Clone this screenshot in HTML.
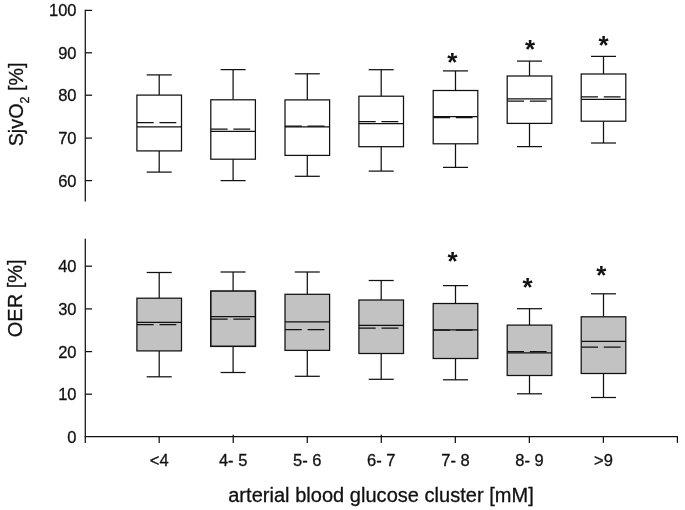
<!DOCTYPE html>
<html lang="en">
<head>
<meta charset="utf-8">
<title>Box plots: SjvO2 and OER by arterial blood glucose cluster</title>
<style>
html,body{margin:0;padding:0;background:#fff;}
body{width:685px;height:510px;overflow:hidden;}
svg{display:block;}
</style>
</head>
<body>
<svg width="685" height="510" viewBox="0 0 685 510">
<rect width="685" height="510" fill="#fff"/>
<g stroke="#111" stroke-width="1.25" fill="none" stroke-linecap="butt">
<line x1="85.3" y1="9.8" x2="85.3" y2="201.6"/>
<line x1="85.3" y1="10.40" x2="92.1" y2="10.40"/>
<line x1="85.3" y1="52.80" x2="92.1" y2="52.80"/>
<line x1="85.3" y1="95.20" x2="92.1" y2="95.20"/>
<line x1="85.3" y1="138.10" x2="92.1" y2="138.10"/>
<line x1="85.3" y1="180.60" x2="92.1" y2="180.60"/>
<line x1="85.3" y1="238.8" x2="85.3" y2="442.9"/>
<line x1="85.3" y1="266.20" x2="92.1" y2="266.20"/>
<line x1="85.3" y1="308.90" x2="92.1" y2="308.90"/>
<line x1="85.3" y1="351.60" x2="92.1" y2="351.60"/>
<line x1="85.3" y1="394.20" x2="92.1" y2="394.20"/>
<line x1="84.7" y1="436.7" x2="678.0" y2="436.7"/>
<line x1="159.20" y1="436.7" x2="159.20" y2="442.9"/>
<line x1="233.23" y1="434.7" x2="233.23" y2="442.9"/>
<line x1="307.26" y1="436.7" x2="307.26" y2="442.9"/>
<line x1="381.29" y1="434.7" x2="381.29" y2="442.9"/>
<line x1="455.32" y1="436.7" x2="455.32" y2="442.9"/>
<line x1="529.35" y1="436.7" x2="529.35" y2="442.9"/>
<line x1="603.38" y1="436.7" x2="603.38" y2="442.9"/>
<line x1="677.41" y1="436.7" x2="677.41" y2="442.9"/>
<line x1="159.20" y1="74.90" x2="159.20" y2="95.10"/>
<line x1="159.20" y1="150.90" x2="159.20" y2="172.10"/>
<line x1="146.70" y1="74.90" x2="171.70" y2="74.90"/>
<line x1="146.70" y1="172.10" x2="171.70" y2="172.10"/>
<rect x="136.90" y="95.10" width="44.60" height="55.80" fill="#fff"/>
<line x1="136.90" y1="126.90" x2="181.50" y2="126.90"/>
<line x1="136.90" y1="122.60" x2="181.50" y2="122.60" stroke-dasharray="16.8 5.8"/>
<line x1="233.10" y1="69.60" x2="233.10" y2="99.80"/>
<line x1="233.10" y1="159.20" x2="233.10" y2="180.60"/>
<line x1="220.60" y1="69.60" x2="245.60" y2="69.60"/>
<line x1="220.60" y1="180.60" x2="245.60" y2="180.60"/>
<rect x="210.80" y="99.80" width="44.60" height="59.40" fill="#fff"/>
<line x1="210.80" y1="131.40" x2="255.40" y2="131.40"/>
<line x1="210.80" y1="129.20" x2="255.40" y2="129.20" stroke-dasharray="16.8 5.8"/>
<line x1="307.30" y1="73.80" x2="307.30" y2="99.90"/>
<line x1="307.30" y1="155.40" x2="307.30" y2="176.30"/>
<line x1="294.80" y1="73.80" x2="319.80" y2="73.80"/>
<line x1="294.80" y1="176.30" x2="319.80" y2="176.30"/>
<rect x="285.00" y="99.90" width="44.60" height="55.50" fill="#fff"/>
<line x1="285.00" y1="126.90" x2="329.60" y2="126.90"/>
<line x1="285.00" y1="126.00" x2="329.60" y2="126.00" stroke-dasharray="16.8 5.8"/>
<line x1="381.20" y1="69.70" x2="381.20" y2="96.20"/>
<line x1="381.20" y1="146.70" x2="381.20" y2="171.10"/>
<line x1="368.70" y1="69.70" x2="393.70" y2="69.70"/>
<line x1="368.70" y1="171.10" x2="393.70" y2="171.10"/>
<rect x="358.90" y="96.20" width="44.60" height="50.50" fill="#fff"/>
<line x1="358.90" y1="123.60" x2="403.50" y2="123.60"/>
<line x1="358.90" y1="121.70" x2="403.50" y2="121.70" stroke-dasharray="16.8 5.8"/>
<line x1="455.50" y1="70.90" x2="455.50" y2="90.50"/>
<line x1="455.50" y1="143.80" x2="455.50" y2="167.40"/>
<line x1="443.00" y1="70.90" x2="468.00" y2="70.90"/>
<line x1="443.00" y1="167.40" x2="468.00" y2="167.40"/>
<rect x="433.20" y="90.50" width="44.60" height="53.30" fill="#fff"/>
<line x1="433.20" y1="116.70" x2="477.80" y2="116.70"/>
<line x1="433.20" y1="117.60" x2="477.80" y2="117.60" stroke-dasharray="16.8 5.8"/>
<line x1="529.50" y1="61.10" x2="529.50" y2="76.00"/>
<line x1="529.50" y1="123.40" x2="529.50" y2="146.60"/>
<line x1="517.00" y1="61.10" x2="542.00" y2="61.10"/>
<line x1="517.00" y1="146.60" x2="542.00" y2="146.60"/>
<rect x="507.20" y="76.00" width="44.60" height="47.40" fill="#fff"/>
<line x1="507.20" y1="98.80" x2="551.80" y2="98.80"/>
<line x1="507.20" y1="101.00" x2="551.80" y2="101.00" stroke-dasharray="16.8 5.8"/>
<line x1="603.50" y1="56.40" x2="603.50" y2="74.00"/>
<line x1="603.50" y1="121.20" x2="603.50" y2="143.00"/>
<line x1="591.00" y1="56.40" x2="616.00" y2="56.40"/>
<line x1="591.00" y1="143.00" x2="616.00" y2="143.00"/>
<rect x="581.20" y="74.00" width="44.60" height="47.20" fill="#fff"/>
<line x1="581.20" y1="99.40" x2="625.80" y2="99.40"/>
<line x1="581.20" y1="96.80" x2="625.80" y2="96.80" stroke-dasharray="16.8 5.8"/>
<line x1="159.20" y1="272.50" x2="159.20" y2="298.20"/>
<line x1="159.20" y1="350.90" x2="159.20" y2="376.80"/>
<line x1="146.70" y1="272.50" x2="171.70" y2="272.50"/>
<line x1="146.70" y1="376.80" x2="171.70" y2="376.80"/>
<rect x="136.90" y="298.20" width="44.60" height="52.70" fill="#c2c2c2"/>
<line x1="136.90" y1="322.40" x2="181.50" y2="322.40"/>
<line x1="136.90" y1="324.60" x2="181.50" y2="324.60" stroke-dasharray="16.8 5.8"/>
<line x1="233.10" y1="272.00" x2="233.10" y2="291.00"/>
<line x1="233.10" y1="346.30" x2="233.10" y2="372.50"/>
<line x1="220.60" y1="272.00" x2="245.60" y2="272.00"/>
<line x1="220.60" y1="372.50" x2="245.60" y2="372.50"/>
<rect x="210.80" y="291.00" width="44.60" height="55.30" fill="#c2c2c2" stroke-width="1.55"/>
<line x1="210.80" y1="316.70" x2="255.40" y2="316.70"/>
<line x1="210.80" y1="319.00" x2="255.40" y2="319.00" stroke-dasharray="16.8 5.8"/>
<line x1="307.30" y1="272.00" x2="307.30" y2="294.30"/>
<line x1="307.30" y1="350.40" x2="307.30" y2="376.30"/>
<line x1="294.80" y1="272.00" x2="319.80" y2="272.00"/>
<line x1="294.80" y1="376.30" x2="319.80" y2="376.30"/>
<rect x="285.00" y="294.30" width="44.60" height="56.10" fill="#c2c2c2"/>
<line x1="285.00" y1="321.80" x2="329.60" y2="321.80"/>
<line x1="285.00" y1="329.60" x2="329.60" y2="329.60" stroke-dasharray="16.8 5.8"/>
<line x1="381.20" y1="280.50" x2="381.20" y2="300.00"/>
<line x1="381.20" y1="353.50" x2="381.20" y2="379.30"/>
<line x1="368.70" y1="280.50" x2="393.70" y2="280.50"/>
<line x1="368.70" y1="379.30" x2="393.70" y2="379.30"/>
<rect x="358.90" y="300.00" width="44.60" height="53.50" fill="#c2c2c2"/>
<line x1="358.90" y1="325.30" x2="403.50" y2="325.30"/>
<line x1="358.90" y1="328.00" x2="403.50" y2="328.00" stroke-dasharray="16.8 5.8"/>
<line x1="455.50" y1="285.60" x2="455.50" y2="303.50"/>
<line x1="455.50" y1="358.50" x2="455.50" y2="379.80"/>
<line x1="443.00" y1="285.60" x2="468.00" y2="285.60"/>
<line x1="443.00" y1="379.80" x2="468.00" y2="379.80"/>
<rect x="433.20" y="303.50" width="44.60" height="55.00" fill="#c2c2c2"/>
<line x1="433.20" y1="329.80" x2="477.80" y2="329.80"/>
<line x1="433.20" y1="330.20" x2="477.80" y2="330.20" stroke-dasharray="16.8 5.8"/>
<line x1="529.50" y1="308.70" x2="529.50" y2="325.10"/>
<line x1="529.50" y1="375.50" x2="529.50" y2="393.80"/>
<line x1="517.00" y1="308.70" x2="542.00" y2="308.70"/>
<line x1="517.00" y1="393.80" x2="542.00" y2="393.80"/>
<rect x="507.20" y="325.10" width="44.60" height="50.40" fill="#c2c2c2"/>
<line x1="507.20" y1="352.80" x2="551.80" y2="352.80"/>
<line x1="507.20" y1="351.50" x2="551.80" y2="351.50" stroke-dasharray="16.8 5.8"/>
<line x1="603.50" y1="293.80" x2="603.50" y2="316.80"/>
<line x1="603.50" y1="373.50" x2="603.50" y2="397.50"/>
<line x1="591.00" y1="293.80" x2="616.00" y2="293.80"/>
<line x1="591.00" y1="397.50" x2="616.00" y2="397.50"/>
<rect x="581.20" y="316.80" width="44.60" height="56.70" fill="#c2c2c2"/>
<line x1="581.20" y1="341.30" x2="625.80" y2="341.30"/>
<line x1="581.20" y1="347.00" x2="625.80" y2="347.00" stroke-dasharray="16.8 5.8"/>
</g>
<g font-family="'Liberation Sans', Arial, Helvetica, sans-serif" fill="#111" stroke="#111" stroke-width="0.3">
<g font-size="16.5px" text-anchor="end">
<text x="76.5" y="16.30">100</text>
<text x="76.5" y="58.70">90</text>
<text x="76.5" y="101.10">80</text>
<text x="76.5" y="144.00">70</text>
<text x="76.5" y="186.50">60</text>
<text x="76.5" y="272.10">40</text>
<text x="76.5" y="314.80">30</text>
<text x="76.5" y="357.50">20</text>
<text x="76.5" y="400.10">10</text>
<text x="76.5" y="442.60">0</text>
</g>
<g font-size="16.5px" text-anchor="middle">
<text x="159.20" y="466.2">&lt;4</text>
<text x="233.10" y="466.2">4- 5</text>
<text x="307.30" y="466.2">5- 6</text>
<text x="381.20" y="466.2">6- 7</text>
<text x="455.50" y="466.2">7- 8</text>
<text x="529.50" y="466.2">8- 9</text>
<text x="603.50" y="466.2">&gt;9</text>
</g>
<text x="228.2" y="502" font-size="20px" textLength="305.6" lengthAdjust="spacing">arterial blood glucose cluster [mM]</text>
<text transform="translate(22.5 146.3) rotate(-90)" font-size="19.75px">SjvO<tspan font-size="12.5px" dy="6.9">2</tspan><tspan dy="-6.9"> [%]</tspan></text>
<text transform="translate(22.4 337.2) rotate(-90)" font-size="20px">OER [%]</text>
<g font-size="26px" font-weight="bold" stroke="none" text-anchor="middle">
<text x="452.30" y="70.80">*</text>
<text x="530.00" y="58.35">*</text>
<text x="603.65" y="54.30">*</text>
<text x="452.65" y="270.40">*</text>
<text x="527.50" y="295.85">*</text>
<text x="601.35" y="284.25">*</text>
</g>
</g>
</svg>
</body>
</html>
